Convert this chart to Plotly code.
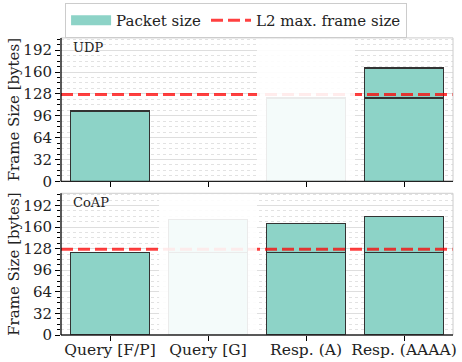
import plotly.graph_objects as go

categories = ["Query [F/P]", "Query [G]", "Resp. (A)", "Resp. (AAAA)"]
positions = [0, 1, 2, 3]

# first fragment (lower segment) and remainder (upper segment), bytes
udp_first = [103, None, 122, 122]
udp_second = [None, None, None, 44]
coap_first = [122, 122, 122, 122]
coap_second = [None, 49, 43, 54]

l2_max = 127
udp_greyed = [2]      # category index greyed out in UDP panel
coap_greyed = [1]     # category index greyed out in CoAP panel

yticks = [0, 32, 64, 96, 128, 160, 192]

FONT = "DejaVu Serif"
TEAL = "#8dd3c7"
EDGE = "#333333"

fig = go.Figure()

# legend swatch for the bars (wide teal rectangle like the reference)
fig.add_trace(go.Scatter(x=[None], y=[None], mode="lines", line=dict(color=TEAL, width=10),
                         name="Packet size", showlegend=True, xaxis="x", yaxis="y"))

def add_panel(first, second, xa, ya, showleg):
    fig.add_trace(go.Bar(x=positions, y=first, width=0.8, marker=dict(color=TEAL, line=dict(color=EDGE, width=1.3)),
                         name="Packet size", showlegend=False, xaxis=xa, yaxis=ya))
    fig.add_trace(go.Bar(x=positions, y=second, width=0.8, marker=dict(color=TEAL, line=dict(color=EDGE, width=1.3)),
                         name="Packet size", showlegend=False, xaxis=xa, yaxis=ya))
    fig.add_trace(go.Scatter(x=[-0.5, 3.5], y=[l2_max, l2_max], mode="lines",
                             line=dict(color="rgba(255,0,0,0.75)", width=3, dash="12px,5px"),
                             name="L2 max. frame size", showlegend=showleg,
                             xaxis=xa, yaxis=ya))

add_panel(udp_first, udp_second, "x", "y", True)
add_panel(coap_first, coap_second, "x2", "y2", False)

shapes = []
for idxs, xr, yr in [(udp_greyed, "x", "y domain"), (coap_greyed, "x2", "y2 domain")]:
    for i in idxs:
        shapes.append(dict(type="rect", xref=xr, yref=yr, x0=i - 0.5, x1=i + 0.5, y0=0, y1=1,
                           fillcolor="rgba(255,255,255,0.9)", line=dict(width=0), layer="above"))
for xr, yr in [("x domain", "y domain"), ("x2 domain", "y2 domain")]:
    shapes.append(dict(type="line", xref=xr, yref=yr, x0=0, x1=1, y0=1, y1=1, line=dict(color="#cccccc", width=1), layer="above"))
    shapes.append(dict(type="line", xref=xr, yref=yr, x0=1, x1=1, y0=0, y1=1, line=dict(color="#cccccc", width=1), layer="above"))
    shapes.append(dict(type="line", xref=xr, yref=yr, x0=0, x1=1, y0=0, y1=0, line=dict(color="#222222", width=1.3), layer="above"))
    shapes.append(dict(type="line", xref=xr, yref=yr, x0=0, x1=0, y0=0, y1=1, line=dict(color="#000000", width=1.3), layer="above"))

xcommon = dict(range=[-0.5, 3.5], tickvals=positions, ticks="outside", ticklen=5, tickwidth=1.3,
               tickcolor="black", showgrid=False, zeroline=False, showline=False, automargin=False,
               ticklabelstandoff=-5,
               tickfont=dict(family=FONT, size=15.5, color="#222"))
ycommon = dict(range=[0, 210], tickvals=yticks, ticks="outside", ticklen=5, tickwidth=1.3, tickcolor="black",
               showgrid=True, gridcolor="#dedede", gridwidth=1, zeroline=False, showline=False, automargin=False,
               tickfont=dict(family=FONT, size=15, color="#222"),
               title=dict(text="Frame Size [bytes]", font=dict(family=FONT, size=15, color="#222"), standoff=0),
               minor=dict(dtick=8, tick0=0, ticks="outside", ticklen=3, tickwidth=1, tickcolor="black",
                          showgrid=True, gridcolor="#e2e2e2", griddash="dot", gridwidth=1))

fig.update_layout(
    width=462, height=362,
    margin=dict(l=61, r=9, t=36, b=27),
    paper_bgcolor="white", plot_bgcolor="white",
    barmode="stack", bargap=0.2,
    font=dict(family=FONT, size=15, color="#222"),
    xaxis=dict(xcommon, anchor="y", showticklabels=False),
    xaxis2=dict(xcommon, anchor="y2", ticktext=categories, showticklabels=True),
    yaxis=dict(ycommon, domain=[0.517, 1], anchor="x"),
    yaxis2=dict(ycommon, domain=[0, 0.477], anchor="x2"),
    shapes=shapes,
    legend=dict(orientation="h", xref="container", yref="container", x=0.511, xanchor="center",
                y=0.992, yanchor="top", bordercolor="#cccccc", borderwidth=1, bgcolor="white",
                traceorder="normal",
                font=dict(family=FONT, size=15, color="#222"), itemwidth=40, tracegroupgap=0),
    annotations=[
        dict(text="UDP", xref="x domain", yref="y domain", x=0.025, y=1.0, xanchor="left", yanchor="top",
             showarrow=False, font=dict(family=FONT, size=13, color="#222")),
        dict(text="CoAP", xref="x2 domain", yref="y2 domain", x=0.025, y=1.0, xanchor="left", yanchor="top",
             showarrow=False, font=dict(family=FONT, size=13, color="#222")),
    ],
)

fig.write_html("out.html")
